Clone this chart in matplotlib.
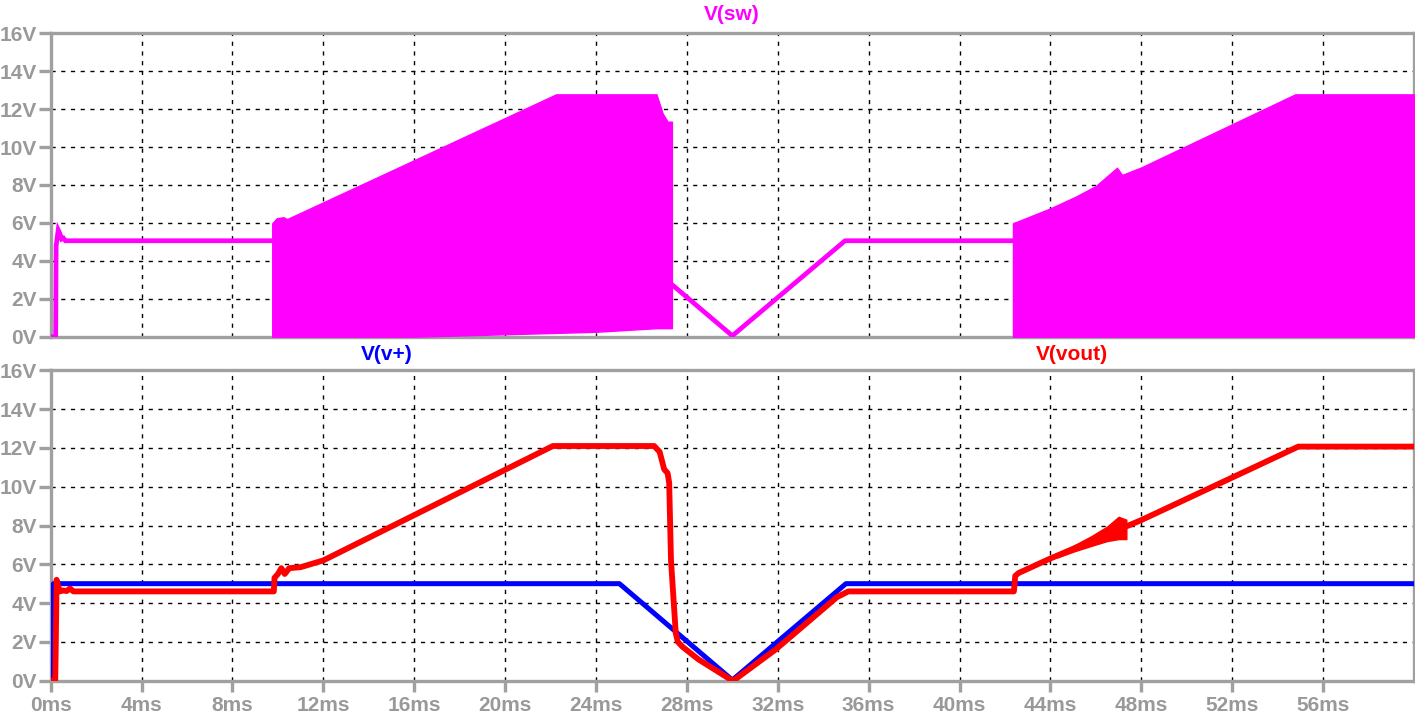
import matplotlib
matplotlib.use("Agg")
import matplotlib.pyplot as plt
import numpy as np

plt.rcParams['font.family'] = ['Liberation Sans', 'DejaVu Sans']

# ---------------- data (ms, V) ----------------
# V(sw): plain line segments
sw_t1 = [0.0, 0.22, 0.24, 0.33, 0.40, 0.48, 0.56, 0.65, 9.75]
sw_v1 = [0.0, 0.0, 4.8, 5.63, 5.45, 5.15, 5.2, 5.06, 5.06]
sw_t2 = [27.34, 30.0, 34.96, 42.35]
sw_v2 = [2.75, 0.05, 5.06, 5.06]
# V(sw): switching bursts (upper / lower envelopes)
burst1_t = [9.75, 9.95, 10.25, 10.4, 16.0, 22.24, 24.0, 26.66, 26.93, 27.15, 27.34]
burst1_hi = [5.98, 6.25, 6.3, 6.2, 9.31, 12.78, 12.78, 12.78, 11.78, 11.34, 11.34]
burst1_lo = [0.0, 0.0, 0.0, 0.0, 0.0, 0.2, 0.26, 0.45, 0.45, 0.45, 0.45]
burst2_t = [42.35, 44.0, 45.1, 46.0, 46.93, 47.15, 48.0, 54.77, 60.0]
burst2_hi = [5.98, 6.77, 7.38, 7.95, 8.91, 8.53, 8.93, 12.78, 12.78]
burst2_lo = [0.0, 0.0, 0.0, 0.0, 0.0, 0.0, 0.0, 0.0, 0.0]

# V(v+)
vp_t = [0.0, 0.12, 0.12, 25.03, 30.0, 35.0, 60.0]
vp_v = [0.0, 0.0, 5.0, 5.0, 0.03, 5.0, 5.0]

# V(vout)
vo_t = [0.0, 0.2, 0.22, 0.26, 0.3, 0.4, 0.55, 0.7, 0.85, 1.0, 9.82, 9.85, 10.0,
        10.15, 10.3, 10.5, 11.0, 12.0, 22.1, 26.56, 26.8, 27.0, 27.15, 27.22,
        27.3, 27.51, 27.6, 27.8, 28.5, 30.0, 30.05, 31.9, 34.6, 35.1, 42.39,
        42.45, 42.6, 44.0, 48.0, 54.91, 60.0]
vo_v = [0.0, 0.0, 1.5, 5.2, 5.0, 4.6, 4.65, 4.62, 4.75, 4.6, 4.6, 5.3, 5.5,
        5.8, 5.5, 5.8, 5.85, 6.2, 12.1, 12.1, 11.8, 10.9, 10.7, 10.2,
        6.2, 2.44, 2.0, 1.75, 1.1, 0.0, 0.0, 1.6, 4.3, 4.6, 4.6,
        5.4, 5.55, 6.3, 8.28, 12.07, 12.07]
# V(vout) ripple band
band_t = [44.3, 45.0, 45.8, 46.5, 47.0, 47.34]
band_hi = [6.55, 6.95, 7.45, 7.95, 8.45, 8.3]
band_lo = [6.35, 6.65, 6.95, 7.2, 7.3, 7.3]

xticks = list(range(0, 57, 4))
xlabels = [f"{t}ms" for t in xticks]
yticks = list(range(0, 17, 2))
ylabels = [f"{v}V" for v in yticks]

MAG = "#ff00ff"
BLUE = "#0000ff"
RED = "#ff0000"
GRAY = "#a0a0a0"
TXT = "#999999"

W, H = 1415, 717
fig = plt.figure(figsize=(W / 100, H / 100), dpi=100)
ax1 = fig.add_axes([50.7 / W, (H - 336.7) / H, 1363.3 / W, 303.4 / H])
ax2 = fig.add_axes([50.7 / W, (H - 680.6) / H, 1363.3 / W, 310.2 / H])

for ax in (ax1, ax2):
    ax.set_xlim(0, 60)
    ax.set_ylim(0, 16)
    ax.set_xticks(xticks)
    ax.set_yticks(yticks)
    ax.set_yticklabels(ylabels)
    ax.set_axisbelow(True)
    ax.grid(True, color="black", linestyle=(0, (3, 4)), linewidth=1.0)
    for s in ax.spines.values():
        s.set_color(GRAY)
        s.set_linewidth(2.4)
    ax.tick_params(axis="y", direction="out", length=9, width=2.4, color=GRAY,
                   labelcolor=TXT, labelsize=15, pad=1)
    for lab in ax.get_yticklabels():
        lab.set_fontweight("bold")

ax1.tick_params(axis="x", length=0, labelbottom=False)
ax2.set_xticklabels(xlabels)
ax2.tick_params(axis="x", direction="out", length=8, width=2.4, color=GRAY,
                labelcolor=TXT, labelsize=15, pad=3)
for lab in ax2.get_xticklabels():
    lab.set_fontweight("bold")

# top panel
ax1.fill_between(burst1_t, burst1_lo, burst1_hi, color=MAG, linewidth=1.0,
                 edgecolor=MAG, zorder=3)
ax1.fill_between(burst2_t, burst2_lo, burst2_hi, color=MAG, linewidth=1.0,
                 edgecolor=MAG, zorder=3)
ax1.plot(sw_t1, sw_v1, color=MAG, linewidth=3.4, zorder=3, solid_joinstyle="miter")
ax1.plot(sw_t2, sw_v2, color=MAG, linewidth=3.4, zorder=3)

# bottom panel
ax2.plot(vp_t, vp_v, color=BLUE, linewidth=3.6, zorder=3)
ax2.plot(vo_t, vo_v, color=RED, linewidth=4.2, zorder=4)
ax2.fill_between(band_t, band_lo, band_hi, color=RED, linewidth=1.0,
                 edgecolor=RED, zorder=4)

fig.text(731.5 / W, 1 - 15 / H, "V(sw)", color=MAG, fontsize=15,
         fontweight="bold", ha="center", va="center")
fig.text(387 / W, 1 - 355 / H, "V(v+)", color=BLUE, fontsize=15,
         fontweight="bold", ha="center", va="center")
fig.text(1071.5 / W, 1 - 355 / H, "V(vout)", color=RED, fontsize=15,
         fontweight="bold", ha="center", va="center")

fig.savefig("out.png", dpi=100, facecolor="white")
